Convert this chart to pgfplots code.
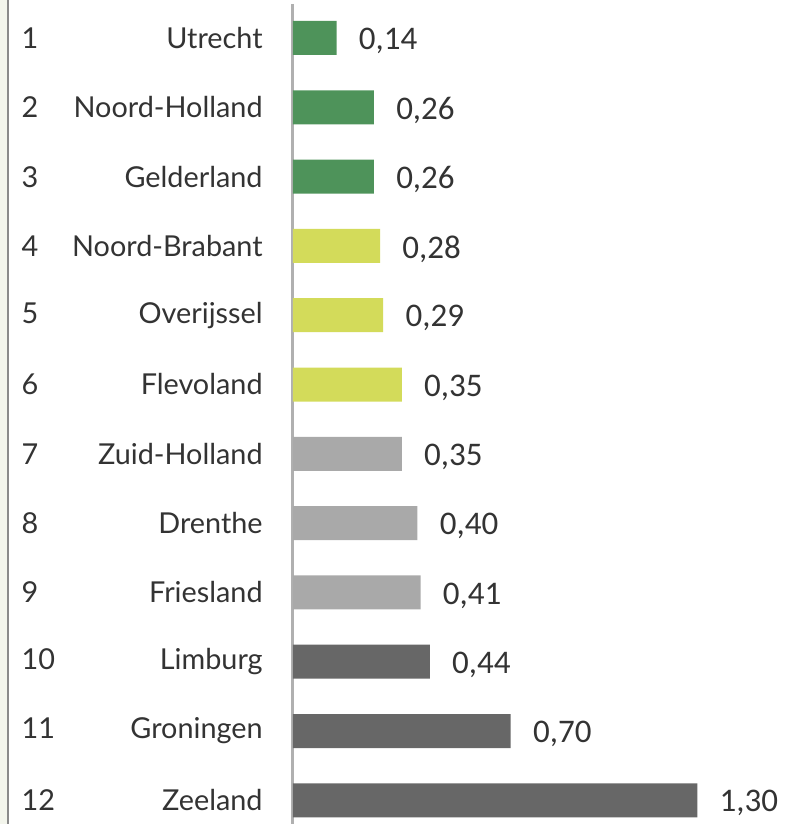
\documentclass[border=0pt]{standalone}
\usepackage{pgfplots}
\pgfplotsset{compat=1.18}
\usepackage{fontspec}
\setmainfont{Lato}
\newfontfamily\valfont{Carlito}
\definecolor{cgreen}{HTML}{4E935A}
\definecolor{cyellow}{HTML}{D3DB5A}
\definecolor{clight}{HTML}{A9A9A9}
\definecolor{cdark}{HTML}{676767}
\definecolor{ctext}{HTML}{333333}
\definecolor{caxis}{HTML}{B0B0B0}
\definecolor{cstrip}{HTML}{F3F5EC}
\definecolor{cframe}{HTML}{8A8A8A}
\begin{document}
\begin{tikzpicture}[x=1pt,y=1pt]
\useasboundingbox (-146.5,0) rectangle (257.5,412);
\fill[cstrip] (-146.5,0) rectangle (-143,412);
\draw[cframe, line width=0.8pt] (-142.6,0) -- (-142.6,412);
\begin{axis}[
  at={(0,0)}, anchor=south west,
  scale only axis, width=257.5pt, height=410pt,
  xbar, bar width=17pt, bar shift=0pt,
  xmin=0, xmax=1.656,
  ymin=0.5094, ymax=12.342, y dir=reverse,
  hide x axis,
  axis y line*=left,
  y axis line style={caxis, line width=1.5pt, -},
  ytick={1,...,12},
  major tick length=0pt,
  yticklabels={
    {\makebox[120.5pt][l]{1\hfill Utrecht}},
    {\makebox[120.5pt][l]{2\hfill Noord-Holland}},
    {\makebox[120.5pt][l]{3\hfill Gelderland}},
    {\makebox[120.5pt][l]{4\hfill Noord-Brabant}},
    {\makebox[120.5pt][l]{5\hfill Overijssel}},
    {\makebox[120.5pt][l]{6\hfill Flevoland}},
    {\makebox[120.5pt][l]{7\hfill Zuid-Holland}},
    {\makebox[120.5pt][l]{8\hfill Drenthe}},
    {\makebox[120.5pt][l]{9\hfill Friesland}},
    {\makebox[120.5pt][l]{10\hfill Limburg}},
    {\makebox[120.5pt][l]{11\hfill Groningen}},
    {\makebox[120.5pt][l]{12\hfill Zeeland}}},
  yticklabel style={anchor=east, inner sep=0pt, xshift=-15pt, font=\fontsize{14.4}{16}\selectfont, text=ctext},
  nodes near coords,
  nodes near coords style={anchor=west, xshift=11pt, yshift=-1.5pt, inner sep=0pt, font=\valfont\fontsize{16.5}{18}\selectfont, text=ctext,
    /pgf/number format/.cd, fixed, fixed zerofill, precision=2, use comma, assume math mode=true},
  clip=false,
]
\addplot[fill=cgreen, draw=none] coordinates {(0.14,1) (0.26,2) (0.26,3)};
\addplot[fill=cyellow, draw=none] coordinates {(0.28,4) (0.29,5) (0.35,6)};
\addplot[fill=clight, draw=none] coordinates {(0.35,7) (0.40,8) (0.41,9)};
\addplot[fill=cdark, draw=none] coordinates {(0.44,10) (0.70,11) (1.30,12)};
\end{axis}
\end{tikzpicture}
\end{document}
